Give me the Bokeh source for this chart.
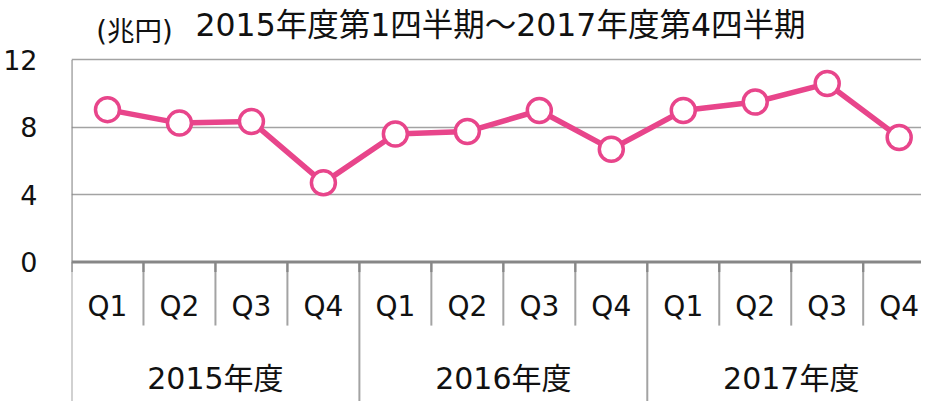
from bokeh.plotting import figure
from bokeh.models import FixedTicker, Range1d, Span, ColumnDataSource
from bokeh.core.properties import value
from bokeh.embed import file_html
from bokeh.resources import INLINE

# ---- data ----
years = ["2015年度", "2016年度", "2017年度"]
quarters = ["Q1", "Q2", "Q3", "Q4"]
values = [9.05, 8.25, 8.35, 4.7, 7.6, 7.75, 9.0, 6.7, 9.0, 9.5, 10.6, 7.4]
y_ticks = [0, 4, 8, 12]
unit_label = "(兆円)"
title_text = "2015年度第1四半期～2017年度第4四半期"

# ---- styling ----
FONT = "'DejaVu Sans', 'Noto Sans CJK JP', sans-serif"
PINK = "#E8458B"
GRID = "#a3a3a3"
AXIS = "#878787"

n = len(years) * len(quarters)
xs = [i + 0.5 for i in range(n)]

p = figure(width=921, height=401, output_backend="svg", toolbar_location=None,
           x_axis_location=None, min_border_left=64, min_border_right=0,
           min_border_top=0, min_border_bottom=0,
           x_range=Range1d(0, 11.81), y_range=Range1d(-8.29, 15.535))
p.outline_line_color = None
p.background_fill_color = "white"
p.border_fill_color = "white"

# y axis
ax = p.yaxis[0]
ax.ticker = FixedTicker(ticks=y_ticks)
ax.axis_line_color = None
ax.major_tick_line_color = None
ax.minor_tick_line_color = None
ax.major_label_standoff = 28
ax.major_label_text_font = FONT
ax.major_label_text_font_size = "27px"
ax.major_label_text_color = "#111111"

p.xgrid.visible = False
p.ygrid.ticker = FixedTicker(ticks=[t for t in y_ticks if t != 0])
p.ygrid.grid_line_color = GRID
p.ygrid.grid_line_width = 1.6

# zero line
p.add_layout(Span(location=0, dimension="width", line_color=AXIS, line_width=3))

# left vertical line
p.segment(x0=[0], y0=[12], x1=[0], y1=[0], line_color=AXIS, line_width=2.2)
p.segment(x0=[0], y0=[0], x1=[0], y1=[-8.4], line_color=GRID, line_width=2)

# category separators
q_sep = [i for i in range(1, n) if i % len(quarters) != 0]
y_sep = [i for i in range(len(quarters), n + 1, len(quarters))]
p.segment(x0=q_sep, y0=[0] * len(q_sep), x1=q_sep, y1=[-3.78] * len(q_sep),
          line_color=GRID, line_width=2)
p.segment(x0=y_sep, y0=[0] * len(y_sep), x1=y_sep, y1=[-8.4] * len(y_sep),
          line_color=GRID, line_width=2)
all_sep = list(range(0, n + 1))
p.segment(x0=all_sep, y0=[0] * len(all_sep), x1=all_sep, y1=[-0.6] * len(all_sep),
          line_color=AXIS, line_width=2.2)

# category labels
q_labels = quarters * len(years)
p.text(x=xs, y=[-2.67] * n, text=q_labels, text_align="center",
       text_baseline="alphabetic", text_font=value(FONT),
       text_font_size="28px", text_color="#111111")
year_x = [len(quarters) * (j + 0.5) for j in range(len(years))]
p.text(x=year_x, y=[-6.92] * len(years), text=years, text_align="center",
       text_baseline="alphabetic", text_font=value(FONT),
       text_font_size="30px", text_color="#111111")

# title texts
p.text(x=[0.345], y=[13.75], text=[unit_label], text_align="left",
       text_baseline="middle", text_font=value(FONT),
       text_font_size="27.5px", text_color="#111111")
p.text(x=[1.723], y=[14.05], text=[title_text], text_align="left",
       text_baseline="middle", text_font=value(FONT),
       text_font_size="31.5px", text_color="#111111")

# series
src = ColumnDataSource(dict(x=xs, y=values))
p.line("x", "y", source=src, line_color=PINK, line_width=5.5)
p.scatter("x", "y", source=src, marker="circle", size=24, fill_color="white",
          line_color=PINK, line_width=3.5)

open("out.html", "w").write(file_html(p, INLINE))
